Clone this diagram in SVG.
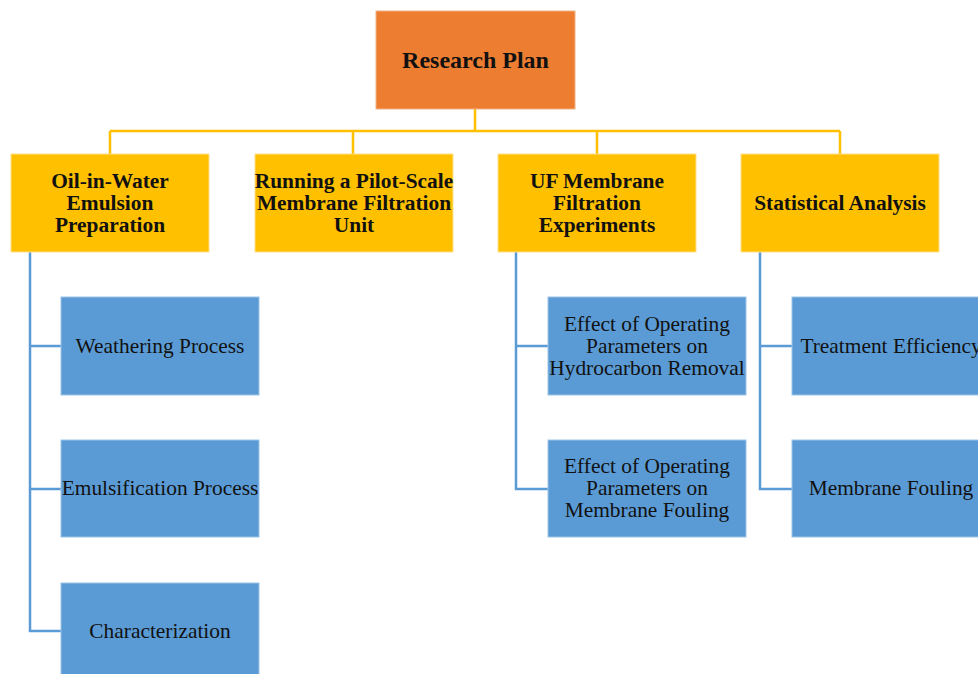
<svg xmlns="http://www.w3.org/2000/svg" width="978" height="674" viewBox="0 0 978 674">
  <style>
    .root { fill: #ED7D31; stroke: #F4B183; stroke-width: 1; }
    .lvl1 { fill: #FFC000; stroke: #FFE08A; stroke-width: 1; }
    .lvl2 { fill: #5B9BD5; stroke: #9DC3E6; stroke-width: 1; }
    .t { font-family: "Liberation Serif", "Times New Roman", serif; fill: #111; text-anchor: middle; }
    .b { font-weight: bold; font-size: 21.4px; }
    .r { font-size: 21.4px; }
    .title { font-weight: bold; font-size: 24px; }
    .orange { stroke: #FFC000; stroke-width: 2.5; fill: none; }
    .blue { stroke: #5B9BD5; stroke-width: 2.5; fill: none; }
  </style>

  <!-- connectors -->
  <g id="connectors">
    <path class="orange" d="M475 109 V131 M110 131 H840 M110 131 V154 M353 131 V154 M597 131 V154 M840 131 V154"/>
    <path class="blue" d="M30 252 V631 H61 M30 346 H61 M30 489 H61"/>
    <path class="blue" d="M516 252 V489 H548 M516 346 H548"/>
    <path class="blue" d="M760 252 V489 H792 M760 346 H792"/>
  </g>

  <g id="research-plan">
    <rect class="root" x="376" y="11" width="199" height="98"/>
    <text class="t title" x="475.5" y="68">Research Plan</text>
  </g>

  <g id="emulsion-preparation">
    <rect class="lvl1" x="11" y="154" width="198" height="98"/>
    <text class="t b" x="110" y="188">Oil-in-Water</text>
    <text class="t b" x="110" y="210">Emulsion</text>
    <text class="t b" x="110" y="232">Preparation</text>
  </g>

  <g id="pilot-scale-unit">
    <rect class="lvl1" x="255" y="154" width="198" height="98"/>
    <text class="t b" x="354" y="188">Running a Pilot-Scale</text>
    <text class="t b" x="354" y="210">Membrane Filtration</text>
    <text class="t b" x="354" y="232">Unit</text>
  </g>

  <g id="uf-experiments">
    <rect class="lvl1" x="498" y="154" width="198" height="98"/>
    <text class="t b" x="597" y="188">UF Membrane</text>
    <text class="t b" x="597" y="210">Filtration</text>
    <text class="t b" x="597" y="232">Experiments</text>
  </g>

  <g id="statistical-analysis">
    <rect class="lvl1" x="741" y="154" width="198" height="98"/>
    <text class="t b" x="840" y="210">Statistical Analysis</text>
  </g>

  <g id="weathering">
    <rect class="lvl2" x="61" y="297" width="198" height="98"/>
    <text class="t r" x="160" y="353">Weathering Process</text>
  </g>

  <g id="emulsification">
    <rect class="lvl2" x="61" y="440" width="198" height="97"/>
    <text class="t r" x="160" y="495">Emulsification Process</text>
  </g>

  <g id="characterization">
    <rect class="lvl2" x="61" y="583" width="198" height="98"/>
    <text class="t r" x="160" y="638">Characterization</text>
  </g>

  <g id="hydrocarbon-removal">
    <rect class="lvl2" x="548" y="297" width="198" height="98"/>
    <text class="t r" x="647" y="331">Effect of Operating</text>
    <text class="t r" x="647" y="353">Parameters on</text>
    <text class="t r" x="647" y="375">Hydrocarbon Removal</text>
  </g>

  <g id="membrane-fouling-effect">
    <rect class="lvl2" x="548" y="440" width="198" height="97"/>
    <text class="t r" x="647" y="473">Effect of Operating</text>
    <text class="t r" x="647" y="495">Parameters on</text>
    <text class="t r" x="647" y="517">Membrane Fouling</text>
  </g>

  <g id="treatment-efficiency">
    <rect class="lvl2" x="792" y="297" width="198" height="98"/>
    <text class="t r" x="891" y="353">Treatment Efficiency</text>
  </g>

  <g id="membrane-fouling">
    <rect class="lvl2" x="792" y="440" width="198" height="97"/>
    <text class="t r" x="891" y="495">Membrane Fouling</text>
  </g>
</svg>
